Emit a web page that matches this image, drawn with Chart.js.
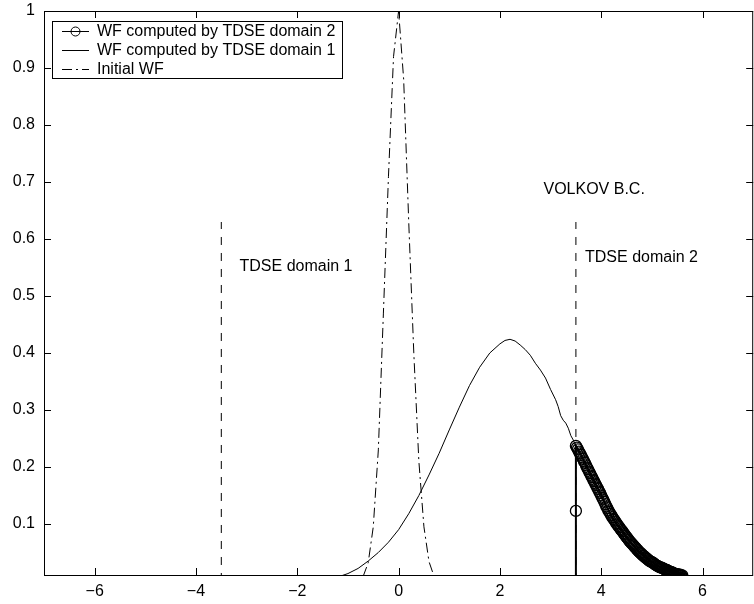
<!DOCTYPE html>
<html>
<head>
<meta charset="utf-8">
<script src="https://cdn.jsdelivr.net/npm/chart.js@4.4.1/dist/chart.umd.min.js"></script>
<style>
  html, body { margin: 0; padding: 0; background: #fff; overflow: hidden; }
  #wrap { width: 760px; height: 604px; }
</style>
</head>
<body>
<div id="wrap"><canvas id="wfChart" width="760" height="604"></canvas></div>
<script>
// ---- data ----
const xTicks = [-6, -4, -2, 0, 2, 4, 6];
const yTicks = [0.1, 0.2, 0.3, 0.4, 0.5, 0.6, 0.7, 0.8, 0.9, 1];

// WF computed by TDSE domain 2 (dense circles)
const dom2X = [3.5, 3.5,
  3.50, 3.52, 3.54, 3.56, 3.58, 3.60, 3.62, 3.64, 3.66, 3.68, 3.70, 3.72, 3.74, 3.76, 3.78, 3.80,
  3.82, 3.84, 3.86, 3.88, 3.90, 3.92, 3.94, 3.96, 3.98, 4.00, 4.02, 4.04, 4.06, 4.08, 4.10, 4.12,
  4.14, 4.16, 4.18, 4.20, 4.22, 4.24, 4.26, 4.28, 4.30, 4.32, 4.34, 4.36, 4.38, 4.40, 4.42, 4.44,
  4.46, 4.48, 4.50, 4.52, 4.54, 4.56, 4.58, 4.60, 4.62, 4.64, 4.66, 4.68, 4.70, 4.72, 4.74, 4.76,
  4.78, 4.80, 4.82, 4.84, 4.86, 4.88, 4.90, 4.92, 4.94, 4.96, 4.98, 5.00, 5.02, 5.04, 5.06, 5.08,
  5.10, 5.12, 5.14, 5.16, 5.18, 5.20, 5.22, 5.24, 5.26, 5.28, 5.30, 5.32, 5.34, 5.36, 5.38, 5.40,
  5.42, 5.44, 5.46, 5.48, 5.50, 5.52, 5.54, 5.56, 5.58, 5.60];
const dom2Y = [0.0, 0.123,
  0.237, 0.234, 0.231, 0.227, 0.224, 0.221, 0.217, 0.214, 0.210, 0.207, 0.203, 0.199, 0.196, 0.192,
  0.189, 0.185, 0.182, 0.178, 0.175, 0.171, 0.168, 0.164, 0.161, 0.157, 0.154, 0.150, 0.146, 0.143,
  0.139, 0.135, 0.131, 0.128, 0.124, 0.121, 0.118, 0.115, 0.112, 0.109, 0.107, 0.104, 0.101, 0.099,
  0.096, 0.094, 0.091, 0.089, 0.087, 0.084, 0.082, 0.079, 0.077, 0.075, 0.072, 0.070, 0.068, 0.066,
  0.064, 0.062, 0.060, 0.058, 0.056, 0.054, 0.052, 0.050, 0.049, 0.047, 0.045, 0.044, 0.042, 0.041,
  0.039, 0.038, 0.036, 0.035, 0.034, 0.033, 0.032, 0.031, 0.029, 0.028, 0.027, 0.026, 0.025, 0.024,
  0.024, 0.023, 0.022, 0.021, 0.020, 0.020, 0.019, 0.018, 0.017, 0.016, 0.016, 0.015, 0.014, 0.013,
  0.013, 0.012, 0.012, 0.011, 0.011, 0.011, 0.010, 0.010];

// WF computed by TDSE domain 1 (solid)
const dom1X = [-1.2, -1.0, -0.8, -0.6, -0.4, -0.2, 0.0, 0.2, 0.4, 0.6, 0.8, 1.0, 1.2, 1.4, 1.6, 1.8,
  2.0, 2.1, 2.2, 2.3, 2.4, 2.5, 2.6, 2.7, 2.8, 2.9, 3.0, 3.1, 3.15, 3.2, 3.25, 3.3, 3.35, 3.4, 3.45, 3.5];
const dom1Y = [0.007, 0.013, 0.022, 0.035, 0.050, 0.068, 0.090, 0.118, 0.150, 0.186, 0.224, 0.265,
  0.305, 0.343, 0.375, 0.400, 0.416, 0.422, 0.424, 0.421, 0.414, 0.406, 0.396, 0.382, 0.370, 0.356,
  0.336, 0.318, 0.306, 0.290, 0.282, 0.277, 0.268, 0.255, 0.247, 0.236];

// Initial WF (dash-dot)
const initX = [-0.7, -0.6, -0.5, -0.4, -0.3, -0.2, -0.1, 0.0, 0.1, 0.2, 0.3, 0.4, 0.5, 0.6, 0.7];
const initY = [0.008, 0.032, 0.095, 0.230, 0.470, 0.710, 0.920, 1.000, 0.880, 0.630, 0.400, 0.210,
  0.095, 0.034, 0.008];

// domain boundaries (dashed verticals)
const boundX = [-3.5, 3.5];
const boundTop = 0.63;

const legendLabels = ["WF computed by TDSE domain 2", "WF computed by TDSE domain 1", "Initial WF"];

const FONT = "16px 'Liberation Sans', Arial, Helvetica, sans-serif";

function toPoints(xs, ys) {
  return xs.map((x, i) => ({ x: x, y: ys[i] }));
}

// boxed axes with inward ticks, MATLAB style
const boxPlugin = {
  id: 'box',
  afterDatasetsDraw(chart) {
    const c = chart.ctx;
    const a = chart.chartArea;
    const sx = chart.scales.x, sy = chart.scales.y;
    c.save();
    c.strokeStyle = '#000';
    c.lineWidth = 1;
    c.strokeRect(a.left + 0.5, a.top + 0.5, a.right - a.left - 1, a.bottom - a.top);
    c.beginPath();
    xTicks.forEach(v => {
      const px = Math.round(sx.getPixelForValue(v)) + 0.5;
      c.moveTo(px, a.bottom); c.lineTo(px, a.bottom - 7);
      c.moveTo(px, a.top); c.lineTo(px, a.top + 7);
    });
    yTicks.forEach(v => {
      const py = Math.round(sy.getPixelForValue(v)) + 0.5;
      c.moveTo(a.left, py); c.lineTo(a.left + 7, py);
      c.moveTo(a.right, py); c.lineTo(a.right - 7, py);
    });
    c.stroke();
    c.restore();
  }
};

// text labels inside the plot
const notesPlugin = {
  id: 'notes',
  afterDatasetsDraw(chart) {
    const c = chart.ctx;
    const sx = chart.scales.x, sy = chart.scales.y;
    c.save();
    c.fillStyle = '#000';
    c.font = FONT;
    c.textBaseline = 'middle';
    c.fillText('VOLKOV B.C.', sx.getPixelForValue(2.86), sy.getPixelForValue(0.686));
    c.fillText('TDSE domain 1', sx.getPixelForValue(-3.14), sy.getPixelForValue(0.551));
    c.fillText('TDSE domain 2', sx.getPixelForValue(3.68), sy.getPixelForValue(0.567));
    c.restore();
  }
};

// legend box in the upper left
const legendPlugin = {
  id: 'wfLegend',
  afterDraw(chart) {
    const c = chart.ctx;
    const x0 = 52, y0 = 21, w = 290, h = 57;
    c.save();
    c.fillStyle = '#fff';
    c.fillRect(x0, y0, w, h);
    c.strokeStyle = '#000';
    c.lineWidth = 1;
    c.strokeRect(x0 + 0.5, y0 + 0.5, w, h);
    const rows = [31, 50, 69];
    const dashes = [[], [], [10, 4, 2, 4]];
    rows.forEach((ry, i) => {
      c.beginPath();
      c.setLineDash(dashes[i]);
      c.moveTo(62, ry + 0.5); c.lineTo(89, ry + 0.5);
      c.stroke();
      c.setLineDash([]);
      if (i === 0) {
        c.beginPath();
        c.arc(75.5, ry + 0.5, 4.5, 0, Math.PI * 2);
        c.stroke();
      }
      c.fillStyle = '#000';
      c.font = FONT;
      c.textBaseline = 'middle';
      c.fillText(legendLabels[i], 97, ry + 1);
    });
    c.restore();
  }
};

const datasets = [
  {
    label: legendLabels[0],
    data: toPoints(dom2X, dom2Y),
    showLine: true,
    borderColor: '#000',
    borderWidth: 2,
    pointStyle: 'circle',
    pointRadius: 5.5,
    pointBorderWidth: 1.3,
    pointBorderColor: '#000',
    pointBackgroundColor: 'rgba(0,0,0,0)',
  },
  {
    label: legendLabels[1],
    data: toPoints(dom1X, dom1Y),
    showLine: true,
    borderColor: '#000',
    borderWidth: 1,
    pointRadius: 0,
  },
  {
    label: legendLabels[2],
    data: toPoints(initX, initY),
    showLine: true,
    borderColor: '#000',
    borderWidth: 1,
    borderDash: [10, 4, 2, 4],
    pointRadius: 0,
  },
];
boundX.forEach(bx => {
  datasets.push({
    label: 'boundary',
    data: [{ x: bx, y: 0 }, { x: bx, y: boundTop }],
    showLine: true,
    borderColor: '#000',
    borderWidth: 1,
    borderDash: [8, 8],
    pointRadius: 0,
  });
});

// keep the plot box where the figure has it (no extra room for edge labels)
function noEdgePad(s) {
  s.paddingTop = 0;
  s.paddingBottom = 0;
  s.paddingLeft = 0;
  s.paddingRight = 0;
}

const ctx = document.getElementById('wfChart').getContext('2d');
const myChart = new Chart(ctx, {
  type: 'scatter',
  data: { datasets: datasets },
  options: {
    responsive: false,
    animation: false,
    layout: { padding: { top: 11, right: 0, left: 0, bottom: 0 } },
    plugins: { legend: { display: false }, tooltip: { enabled: false } },
    elements: { line: { tension: 0 } },
    scales: {
      x: {
        type: 'linear',
        min: -7,
        max: 7,
        afterBuildTicks: s => { s.ticks = xTicks.map(v => ({ value: v })); },
        afterFit: s => { s.height = 29; noEdgePad(s); },
        grid: { display: false, drawTicks: false },
        border: { display: false },
        ticks: {
          color: '#000',
          padding: 7,
          font: { family: "'Liberation Sans', Arial, sans-serif", size: 16 },
          callback: v => (v < 0 ? '\u2212' + Math.abs(v) : String(v)),
        },
      },
      y: {
        type: 'linear',
        min: 0.0105,
        max: 1,
        afterBuildTicks: s => { s.ticks = yTicks.map(v => ({ value: v })); },
        afterFit: s => { s.width = 44; noEdgePad(s); },
        grid: { display: false, drawTicks: false },
        border: { display: false },
        ticks: {
          color: '#000',
          padding: 9,
          font: { family: "'Liberation Sans', Arial, sans-serif", size: 16 },
          callback: v => String(v),
        },
      },
    },
  },
  plugins: [boxPlugin, notesPlugin, legendPlugin],
});
</script>
</body>
</html>
